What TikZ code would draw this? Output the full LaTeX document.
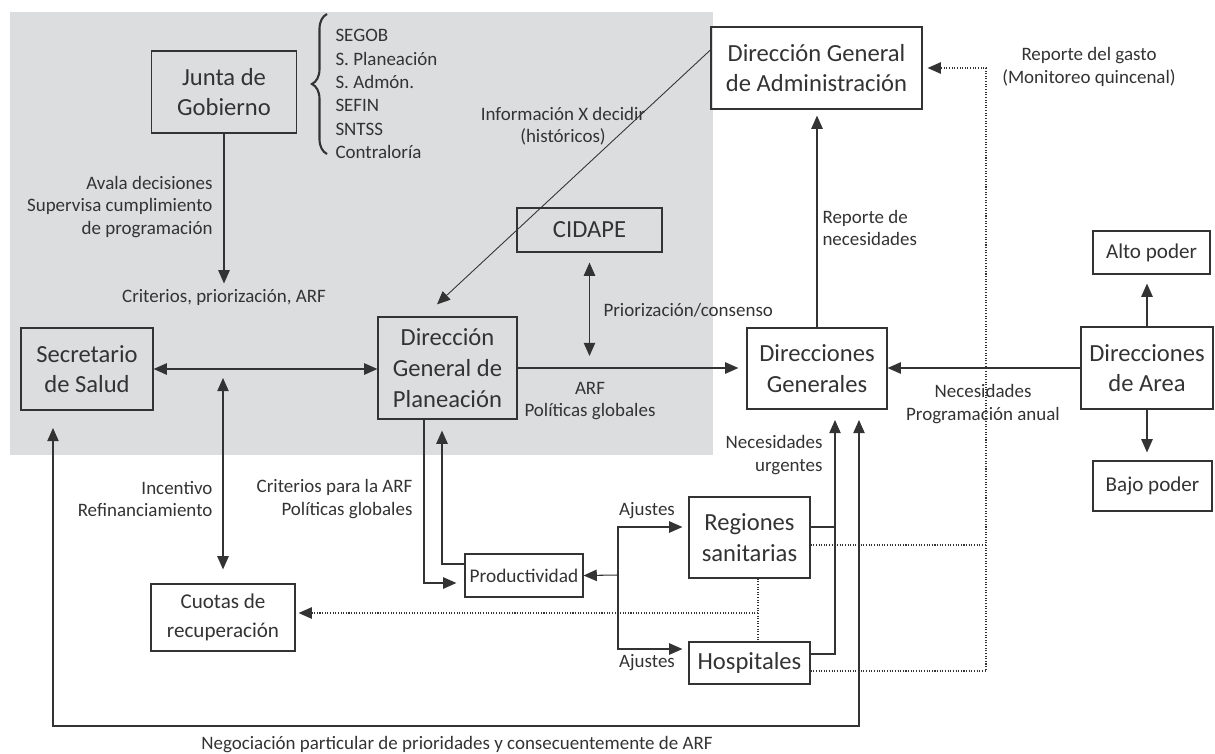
\documentclass[tikz,border=0pt]{standalone}
\usepackage{fontspec}
\setmainfont{Carlito}
\usetikzlibrary{arrows.meta, positioning, calc, decorations.pathreplacing}
\definecolor{panelGray}{RGB}{220,221,223}
\definecolor{lineGray}{gray}{0.2}

\begin{document}
\begin{tikzpicture}[x=0.02cm, y=-0.02cm,
    >={Triangle[length=7.5pt, width=6.5pt]},
    box/.style={draw=lineGray, line width=0.7pt, inner sep=0pt, align=center, font=\fontsize{14}{17.5}\selectfont},
    smallbox/.style={box, font=\fontsize{12}{16.4}\selectfont},
    bw/.style={minimum width=#1*0.02cm},
    bh/.style={minimum height=#1*0.02cm},
    lbl/.style={inner sep=0pt, font=\fontsize{10.8}{12.8}\selectfont},
    every path/.append style={lineGray, line width=0.6pt},
    dotln/.style={line width=0.6pt, dash pattern=on 0.6pt off 0.9pt},
    dotarr/.style={dotln, ->}]
    \useasboundingbox (0,0) rectangle (1215,754);

    % shaded area
    \fill[panelGray] (10,12) rectangle (713,455);

    % boxes
    \node[box, bw=145, bh=82] (junta) at (224,92) {Junta de\\Gobierno};
    \node[box, bw=132, bh=82] (secre) at (87,369) {Secretario\\de Salud};
    \node[box, bw=139, bh=102] (dgp) at (447.5,368) {Dirección\\General de\\Planeación};
    \node[box, bw=145, bh=44] (cidape) at (589.5,230) {CIDAPE};
    \node[box, bw=211, bh=82] (dga) at (816.5,68) {Dirección General\\de Administración};
    \node[box, bw=140, bh=81] (dg) at (817,368.5) {Direcciones\\Generales};
    \node[box, bw=132, bh=82] (darea) at (1147,368) {Direcciones\\de Area};
    \node[smallbox, bw=117, bh=43] (alto) at (1151.5,252.5) {Alto poder};
    \node[smallbox, bw=119, bh=50] (bajo) at (1152.5,486) {Bajo poder};
    \node[smallbox, bw=144, bh=67] (cuotas) at (223,617.5) {Cuotas de\\recuperación};
    \node[box, bw=118, bh=43, font=\fontsize{11}{13}\selectfont] (prod) at (524,575.5) {Productividad};
    \node[box, bw=121, bh=81] (regiones) at (749.5,537.5) {Regiones\\sanitarias};
    \node[box, bw=121, bh=42] (hosp) at (749.5,663) {Hospitales};

    % members of the Junta
    \node[lbl, anchor=west, align=left, font=\fontsize{10.8}{13.3}\selectfont] (miembros) at (335,94)
        {SEGOB\\S. Planeación\\S. Admón.\\SEFIN\\SNTSS\\Contraloría};
    \draw[line width=1.2pt, decorate, decoration={brace, amplitude=0.3cm}] (327,154) -- (327,14);

    % labels
    \node[lbl, anchor=east, align=right] (avala) at (213,207) {Avala decisiones\\Supervisa cumplimiento\\de programación};
    \node[lbl] (crit) at (224,297) {Criterios, priorización, ARF};
    \node[lbl, align=center] (info) at (563,126) {Información X decidir\\(históricos)};
    \node[lbl, anchor=west] (prior) at (603,310) {Priorización/consenso};
    \node[lbl, align=center] (arf) at (590,401) {ARF\\Políticas globales};
    \node[lbl, anchor=west, align=left] (repnec) at (822,228) {Reporte de\\necesidades};
    \node[lbl, align=center] (gastolbl) at (1089,67) {Reporte del gasto\\(Monitoreo quincenal)};
    \node[lbl, align=center] (necprog) at (983,404) {Necesidades\\Programación anual};
    \node[lbl, anchor=east, align=right] (urg) at (823,455) {Necesidades\\urgentes};
    \node[lbl, anchor=east, align=right] (incent) at (213,499) {Incentivo\\Refinanciamiento};
    \node[lbl, anchor=east, align=right] (critarf) at (413,499) {Criterios para la ARF\\Políticas globales};
    \node[lbl] (ajR) at (647,511) {Ajustes};
    \node[lbl] (ajH) at (647,663) {Ajustes};
    \node[lbl] (negoc) at (457,745) {Negociación particular de prioridades y consecuentemente de ARF};

    % helper points
    \coordinate (fork) at (618,575);
    \coordinate (gasto) at (986,68);
    \coordinate (cq) at (758,613);
    \coordinate (base) at (0,726);
    \coordinate (negS) at (53,428);
    \coordinate (negD) at (859,420);
    \coordinate (dgin) at (835,420);
    \coordinate (dgaL) at ([yshift=0.36cm]dga.west);
    \coordinate (dgpT) at ([xshift=-0.21cm, yshift=0.24cm]dgp.north);
    \coordinate (regR) at ([yshift=0.21cm]regiones.east);
    \coordinate (regD) at ([yshift=-0.15cm]regiones.east);
    \coordinate (incT) at (secre.east -| cuotas.north);

    % upper connectors
    \draw[->, shorten >=0.1cm] (junta.south) -- (crit.north);
    \draw[<->] (secre.east) -- (secre.east -| dgp.west);
    \draw[<->, shorten <=0.18cm, shorten >=0.28cm] (incT) -- (cuotas.north);
    \draw[->, line width=0.5pt] (dgaL) -- (dgpT);
    \draw[<->, shorten <=0.2cm, shorten >=0.24cm] (cidape.south) -- (cidape.south |- dgp.east);
    \draw[->, shorten >=0.16cm] (dgp.east) -- (dgp.east -| dg.west);
    \draw[->, shorten >=0.12cm] (dg.north) -- (dg.north |- dga.south);
    \draw[->] (darea.west) -- (darea.west -| dg.east);
    \draw[->, shorten >=0.18cm] (darea.north) -- (darea.north |- alto.south);
    \draw[->, shorten >=0.16cm] (darea.south) -- (darea.south |- bajo.north);

    % lower connectors
    \draw[->, shorten >=0.16cm] ([xshift=-0.47cm]dgp.south) |- ([yshift=-0.15cm]prod.west);
    \draw[->, shorten >=0.22cm] ([yshift=0.23cm]prod.west) -| ([xshift=-0.11cm]dgp.south);
    \draw[->] (fork) -- (prod.east);
    \draw[->, shorten >=0.12cm] (fork) |- ([yshift=0.21cm]regiones.west);
    \draw[->, shorten >=0.12cm] (fork) |- ([yshift=0.28cm]hosp.west);
    \draw (regR) -- (regR -| dgin);
    \draw[->] ([yshift=0.18cm]hosp.east) -| (dgin);
    \draw[<->] (negS) -- (negS |- base) -| (negD);

    % dotted connectors
    \draw[dotln] (regD) -- (regD -| gasto);
    \draw[dotarr, shorten >=0.1cm] ([yshift=-0.16cm]hosp.east) -| (gasto) -- (dga.east);
    \draw[dotln] ([xshift=0.17cm]regiones.south) -- ([xshift=0.17cm]hosp.north);
    \draw[dotarr, shorten >=0.06cm] (cq) -- (cq -| cuotas.east);
\end{tikzpicture}
\end{document}
